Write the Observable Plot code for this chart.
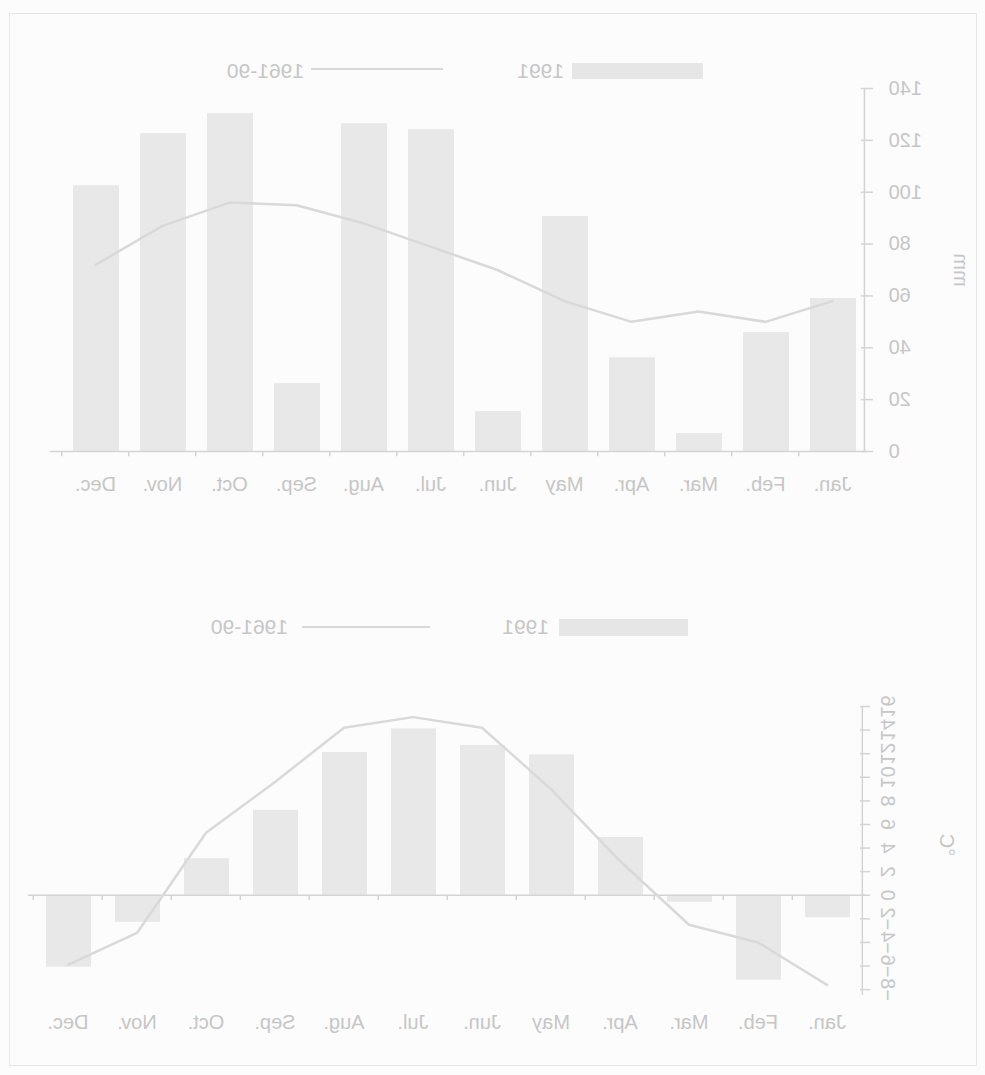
<!DOCTYPE html>
<html>
<head>
<meta charset="utf-8">
<script src="https://cdn.jsdelivr.net/npm/d3@7"></script>
<script src="https://cdn.jsdelivr.net/npm/@observablehq/plot@0.6"></script>
<style>
  html, body { margin: 0; padding: 0; background: #fcfcfc; }
  #page {
    position: relative; width: 985px; height: 1075px; overflow: hidden;
    transform: scaleX(-1);
    font-family: "Liberation Sans", Arial, sans-serif; color: #c6c6c6;
  }
  .abs { position: absolute; }
  .border { left: 8px; top: 13px; width: 968px; height: 1053px; border: 1.5px solid #e6e6e6; box-sizing: border-box; }
  .swatch { background: #e6e6e6; }
  .key { background: #d9d9d9; height: 2px; }
  .ltext { font-size: 21px; line-height: 24px; white-space: nowrap; }
  .unit { font-size: 20px; line-height: 24px; width: 80px; text-align: center; transform: rotate(-90deg); }
  svg { position: absolute; left: 0; }
</style>
</head>
<body>
<div id="page">
  <div class="abs border"></div>

  <!-- precipitation legend -->
  <div class="abs swatch" style="left:282px;top:63px;width:131px;height:16px"></div>
  <div class="abs ltext" style="left:421px;top:59px">1991</div>
  <div class="abs key" style="left:542px;top:68px;width:132px"></div>
  <div class="abs ltext" style="left:681px;top:59px">1961-90</div>
  <div class="abs unit" style="left:-16px;top:258px">mm</div>

  <!-- temperature legend -->
  <div class="abs swatch" style="left:297px;top:619px;width:129px;height:17px"></div>
  <div class="abs ltext" style="left:436px;top:615px">1991</div>
  <div class="abs key" style="left:555px;top:626px;width:128px"></div>
  <div class="abs ltext" style="left:697px;top:615px">1961-90</div>
  <div class="abs unit" style="left:-2px;top:833px">°C</div>
</div>
<script>
// Monthly precipitation (mm) and mean temperature (°C): 1991 against the 1961-90 normal
const months = ["Jan.", "Feb.", "Mar.", "Apr.", "May", "Jun.", "Jul.", "Aug.", "Sep.", "Oct.", "Nov.", "Dec."];
const rain1991 = [59.0, 45.9, 6.9, 36.2, 90.6, 15.4, 124.1, 126.4, 26.2, 130.3, 122.6, 102.5];
const rainNormal = [58, 50, 54, 50, 58, 70, 79, 88, 95, 96, 87, 72];
const temp1991 = [-1.9, -7.2, -0.6, 4.9, 11.9, 12.7, 14.1, 12.1, 7.2, 3.1, -2.3, -6.1];
const tempNormal = [-7.6, -4.0, -2.5, 2.9, 9.0, 14.2, 15.1, 14.2, 9.6, 5.3, -3.2, -5.9];
const rainTicks = [0, 20, 40, 60, 80, 100, 120, 140];
const tempTicks = [-8, -6, -4, -2, 0, 2, 4, 6, 8, 10, 12, 14, 16];

const W = 985;
const barFill = "#e8e8e8";
const lineStroke = "#d9d9d9";
const axisStroke = "#d4d4d4";
const textColor = "#c6c6c6";
const page = document.getElementById("page");

function monthChart({values, normals, yDomain, ticks, top, height, marginTop, marginBottom,
                     marginLeft, marginRight, paddingInner, paddingOuter, align,
                     tickRotate, labelPadding, yLabelPadding, crossTick, boundaryTick}) {
  const rows = months.map((m, i) => ({month: m, value: values[i], normal: normals[i]}));
  // band geometry, used to put the x tick marks between months and the y axis line at the frame edge
  const band = d3.scaleBand(months, [marginLeft, W - marginRight])
    .paddingInner(paddingInner).paddingOuter(paddingOuter).align(align);
  const half = band.step() / 2;
  const toEdge = band(months[0]) + band.bandwidth() / 2 - marginLeft;

  const svg = Plot.plot({
    width: W, height, marginTop, marginBottom, marginLeft, marginRight,
    style: {background: "transparent", color: textColor, fontFamily: "Liberation Sans, Arial, sans-serif", fontSize: "20px"},
    x: {type: "band", domain: months, paddingInner, paddingOuter, align},
    y: {domain: yDomain},
    marks: [
      Plot.barY(rows, {x: "month", y: "value", fill: barFill}),
      Plot.ruleY([0], {stroke: axisStroke, strokeWidth: 1.5}),
      Plot.ruleX(rows, {x: "month", y1: 0, y2: boundaryTick, dx: half, stroke: axisStroke, strokeWidth: 1.5}),
      Plot.line(rows, {x: "month", y: "normal", stroke: lineStroke, strokeWidth: 2.5}),
      Plot.ruleX([months[0]], {y1: yDomain[0], y2: yDomain[1], dx: -toEdge, stroke: axisStroke, strokeWidth: 1.5}),
      Plot.axisY({ticks, tickSize: crossTick, dx: crossTick / 2, tickFormat: () => "", label: null, stroke: axisStroke, strokeWidth: 1.5}),
      Plot.axisY({ticks, tickSize: 0, tickPadding: yLabelPadding, tickRotate, label: null, fontSize: 20, fill: textColor}),
      Plot.axisX({tickSize: 0, tickPadding: labelPadding, label: null, fontSize: 20, fill: textColor})
    ]
  });
  svg.style.top = top + "px";
  page.appendChild(svg);
}

// precipitation
monthChart({
  values: rain1991, normals: rainNormal, yDomain: [0, 140], ticks: rainTicks,
  top: 0, height: 530, marginTop: 88, marginBottom: 79, marginLeft: 118, marginRight: 50,
  paddingInner: 0.32, paddingOuter: 0.215, align: 0.31,
  tickRotate: 0, labelPadding: 25, yLabelPadding: 22, crossTick: 12, boundaryTick: -2
});

// temperature
monthChart({
  values: temp1991, normals: tempNormal, yDomain: [-8.5, 16], ticks: tempTicks,
  top: 660, height: 400, marginTop: 46, marginBottom: 65, marginLeft: 120, marginRight: 28,
  paddingInner: 0.35, paddingOuter: 0.2, align: 0.46,
  tickRotate: -90, labelPadding: 19, yLabelPadding: 16, crossTick: 10, boundaryTick: -0.45
});
</script>
</body>
</html>
